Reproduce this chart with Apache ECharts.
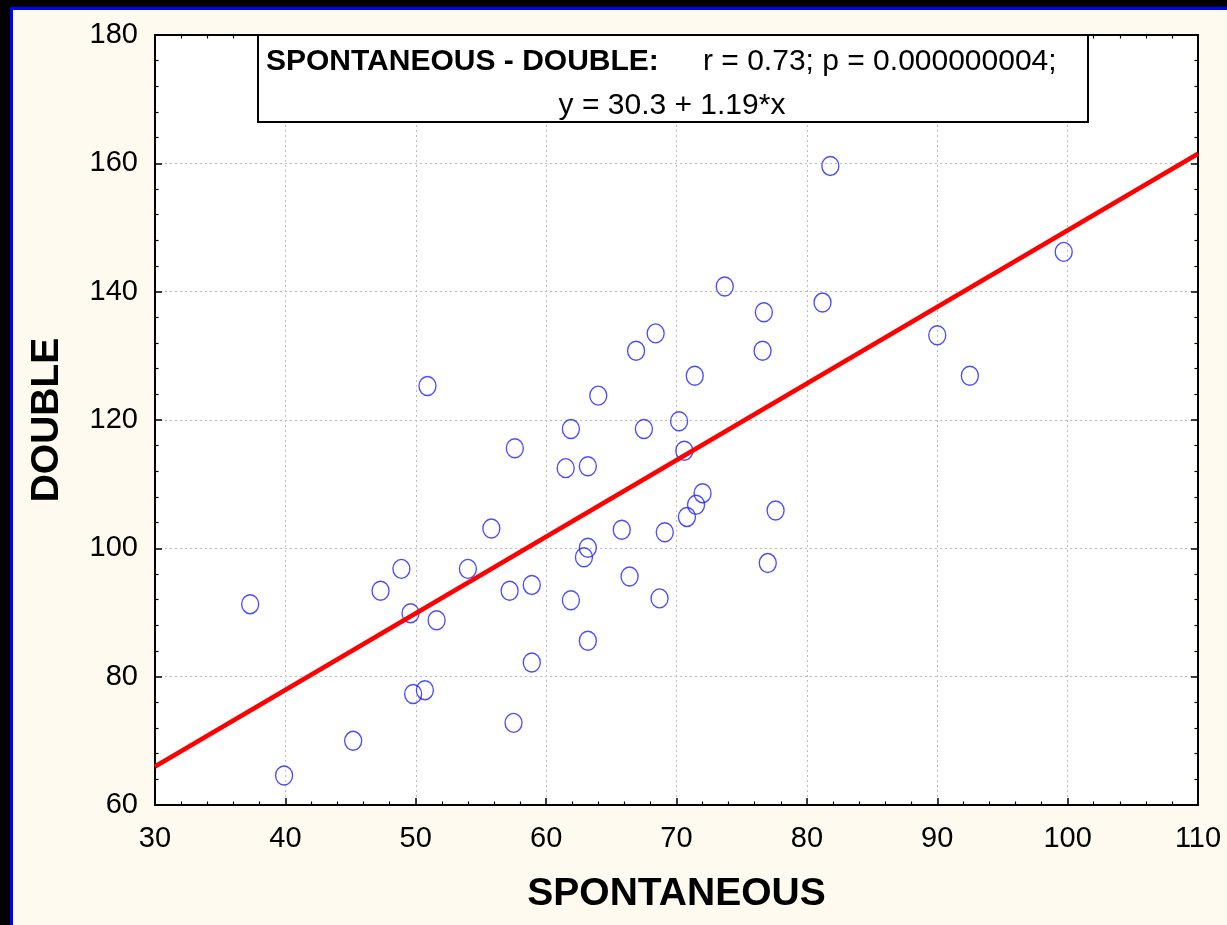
<!DOCTYPE html>
<html>
<head>
<meta charset="utf-8">
<title>SPONTANEOUS - DOUBLE</title>
<script src="https://cdn.jsdelivr.net/npm/echarts@6/dist/echarts.min.js"></script>
<style>
  html, body { margin: 0; padding: 0; background: #fffaf0; }
  #chart { width: 1227px; height: 925px; }
</style>
</head>
<body>
<div id="chart"></div>
<script>
// ---- data ----
const spontaneous = [
  37.3, 39.9, 45.2, 47.3, 48.9, 49.6, 49.8, 50.7, 50.9, 51.6,
  54.0, 55.8, 57.2, 57.5, 57.6, 58.9, 58.9, 61.5, 61.9, 61.9,
  62.9, 63.2, 63.2, 63.2, 64.0, 65.8, 66.4, 66.9, 67.5, 68.4,
  68.7, 69.1, 70.2, 70.6, 70.8, 71.4, 71.5, 72.0, 73.7, 76.6,
  76.7, 77.0, 77.6, 81.2, 81.8, 90.0, 92.5, 99.7
];
const double = [
  91.3, 64.6, 70.0, 93.4, 96.8, 89.9, 77.3, 77.9, 125.3, 88.8,
  96.8, 103.1, 93.4, 72.8, 115.6, 94.3, 82.2, 112.5, 118.6, 91.9,
  98.6, 100.1, 112.8, 85.6, 123.8, 102.9, 95.6, 130.8, 118.6, 133.5,
  92.2, 102.5, 119.8, 115.2, 104.9, 126.9, 106.8, 108.6, 140.8, 130.8,
  136.8, 97.7, 105.9, 138.3, 159.6, 133.2, 126.9, 146.2
];
// regression line end points (x = 30 and x = 110)
const fitX = [30, 110];
const fitY = [66.0, 161.5];

const xName = 'SPONTANEOUS';
const yName = 'DOUBLE';
const boxTitle = 'SPONTANEOUS - DOUBLE:';
const boxStats = 'r = 0.73; p = 0.000000004;';
const boxEquation = 'y = 30.3 + 1.19*x';

const FONT = '"Liberation Sans", Arial, Helvetica, sans-serif';

const chart = echarts.init(document.getElementById('chart'));

const points = spontaneous.map((x, i) => [x, double[i]]);
const fitLine = fitX.map((x, i) => [x, fitY[i]]);

// shared pieces for the four frame axes
const frameLine = { show: true, lineStyle: { color: '#000', width: 2 } };
const frameTick = { show: true, inside: true, length: 7, lineStyle: { color: '#000', width: 1.5 } };
const frameMinor = { show: true, splitNumber: 5, length: 3.5, lineStyle: { color: '#000', width: 1.2 } };
const dotted = { show: true, lineStyle: { color: '#bdbdbd', width: 1, type: [2, 3] } };
const tickLabel = { color: '#000', fontSize: 29, fontFamily: FONT };

const option = {
  backgroundColor: '#fffaf0',
  animation: false,
  grid: {
    left: 155, right: 29, top: 35, bottom: 120,
    show: true, backgroundColor: '#fff', borderWidth: 0,
    outerBoundsMode: 'none'
  },
  xAxis: [{
    type: 'value', position: 'bottom', min: 30, max: 110, interval: 10,
    axisLine: frameLine, axisTick: frameTick, minorTick: frameMinor, splitLine: dotted,
    axisLabel: Object.assign({ margin: 19 }, tickLabel),
    name: xName, nameLocation: 'middle', nameGap: 70,
    nameTextStyle: { color: '#000', fontSize: 39, fontWeight: 'bold', fontFamily: FONT }
  }, {
    type: 'value', position: 'top', min: 30, max: 110, interval: 10,
    axisLine: frameLine, axisTick: frameTick, minorTick: frameMinor,
    splitLine: { show: false }, axisLabel: { show: false }
  }],
  yAxis: [{
    type: 'value', position: 'left', min: 60, max: 180, interval: 20,
    axisLine: frameLine, axisTick: frameTick, minorTick: frameMinor, splitLine: dotted,
    axisLabel: Object.assign({ margin: 17 }, tickLabel),
    name: yName, nameLocation: 'middle', nameGap: 88,
    nameTextStyle: { color: '#000', fontSize: 39, fontWeight: 'bold', fontFamily: FONT }
  }, {
    type: 'value', position: 'right', min: 60, max: 180, interval: 20,
    axisLine: frameLine, axisTick: frameTick, minorTick: frameMinor,
    splitLine: { show: false }, axisLabel: { show: false }
  }],
  series: [{
    name: 'points', type: 'scatter', xAxisIndex: 0, yAxisIndex: 0,
    data: points, symbol: 'circle', symbolSize: [17, 19],
    itemStyle: { color: 'rgba(0,0,0,0)', borderColor: '#1f1fff', borderWidth: 1.4 },
    z: 3
  }, {
    name: 'fit', type: 'line', xAxisIndex: 0, yAxisIndex: 0,
    data: fitLine, showSymbol: false, symbol: 'none',
    lineStyle: { color: '#ff0000', width: 4.5 },
    z: 4
  }],
  graphic: [
    // dark frame along top and left edges
    { type: 'rect', shape: { x: 0, y: 0, width: 1227, height: 7 }, style: { fill: '#000' }, z: 200 },
    { type: 'rect', shape: { x: 0, y: 0, width: 10, height: 925 }, style: { fill: '#000' }, z: 200 },
    { type: 'rect', shape: { x: 10, y: 7, width: 1217, height: 3 }, style: { fill: '#0000ff' }, z: 201 },
    { type: 'rect', shape: { x: 10, y: 7, width: 3, height: 918 }, style: { fill: '#0000ff' }, z: 201 },
    // statistics box
    { type: 'rect', shape: { x: 258, y: 35, width: 830, height: 87 },
      style: { fill: '#fff', stroke: '#000', lineWidth: 2 }, z: 100 },
    { type: 'text', z: 101,
      style: { text: boxTitle, x: 266, y: 62, align: 'left', verticalAlign: 'middle',
               font: 'bold 30px ' + FONT, fill: '#000' } },
    { type: 'text', z: 101,
      style: { text: boxStats, x: 703, y: 62, align: 'left', verticalAlign: 'middle',
               font: '30px ' + FONT, fill: '#000' } },
    { type: 'text', z: 101,
      style: { text: boxEquation, x: 672, y: 106, align: 'center', verticalAlign: 'middle',
               font: '30px ' + FONT, fill: '#000' } }
  ]
};

chart.setOption(option);
window.addEventListener('resize', () => chart.resize());
</script>
</body>
</html>
